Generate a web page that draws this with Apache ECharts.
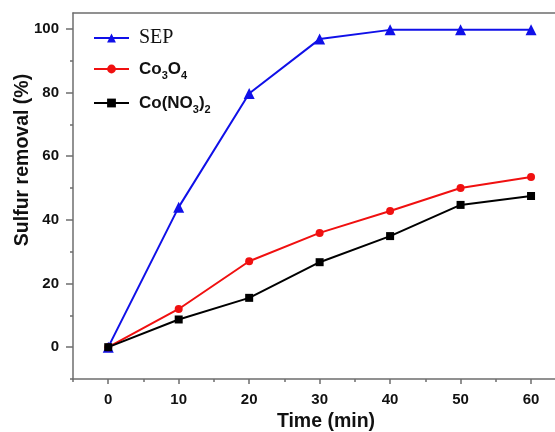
<!DOCTYPE html>
<html>
<head>
<meta charset="utf-8">
<script src="https://cdn.jsdelivr.net/npm/echarts@6/dist/echarts.min.js"></script>
<style>html,body{margin:0;padding:0;background:#fff;}#c{width:555px;height:432px;}</style>
</head>
<body>
<div id="c"></div>
<script>
const times = [0, 10, 20, 30, 40, 50, 60];
const sep = [0, 44, 79.7, 96.8, 99.7, 99.7, 99.7];
const co3o4 = [0, 12.0, 27.0, 35.9, 42.8, 50.0, 53.5];
const coNO3 = [0, 8.7, 15.5, 26.7, 34.9, 44.7, 47.5];
const xTickLabels = [0, 10, 20, 30, 40, 50, 60];
const xMinorTicks = [-5, 5, 15, 25, 35, 45, 55];
const yTickLabels = [0, 20, 40, 60, 80, 100];
const yMinorTicks = [-10, 10, 30, 50, 70, 90];

const toPairs = arr => times.map((t, i) => [t, arr[i]]);
const axisColor = '#6e6e6e';
const labelFont = {color: '#111', fontFamily: 'Liberation Sans', fontWeight: 'bold', fontSize: 15};
const richBase = {
  b: {fontFamily: 'Liberation Sans', fontWeight: 'bold', fontSize: 17, color: '#111', lineHeight: 24, verticalAlign: 'middle'},
  s: {fontFamily: 'Liberation Sans', fontWeight: 'bold', fontSize: 11, color: '#111', lineHeight: 10, padding: [14, 0, 0, 0], verticalAlign: 'bottom'},
  r: {fontFamily: 'Liberation Serif', fontSize: 20, color: '#111', lineHeight: 24, verticalAlign: 'middle'}
};
const legendCommon = {
  orient: 'vertical', left: 88, itemWidth: 35, itemHeight: 11,
  textStyle: {rich: richBase, padding: [0, 0, 0, 5]}
};
const axisLineStyle = {color: axisColor, width: 1.5};
const X_MIN = -5, X_MAX = 63.4, Y_MIN = -10, Y_MAX = 105;

const chart = echarts.init(document.getElementById('c'), null, {renderer: 'canvas'});
chart.setOption({
  animation: false,
  backgroundColor: '#fff',
  grid: {left: 73, right: 0, top: 13, bottom: 53, show: false, containLabel: false, outerBoundsMode: 'none'},
  legend: [
    Object.assign({}, legendCommon, {top: 23, data: ['SEP'], formatter: () => '{r|SEP}'}),
    Object.assign({}, legendCommon, {top: 51, data: ['Co3O4'], formatter: () => '{b|Co}{s|3}{b|O}{s|4}'}),
    Object.assign({}, legendCommon, {top: 85, data: ['Co(NO3)2'], formatter: () => '{b|Co(NO}{s|3}{b|)}{s|2}'})
  ],
  xAxis: [{
    type: 'value', min: X_MIN, max: X_MAX, position: 'bottom',
    name: 'Time (min)', nameLocation: 'middle', nameGap: 32,
    nameTextStyle: {fontFamily: 'Liberation Sans', fontWeight: 'bold', fontSize: 19.5, color: '#111', padding: [0, 0, 0, 24]},
    axisLine: {show: true, onZero: false, lineStyle: axisLineStyle},
    axisTick: {show: true, inside: false, length: 5, customValues: xTickLabels, lineStyle: axisLineStyle},
    axisLabel: {show: true, margin: 13, customValues: xTickLabels, ...labelFont},
    splitLine: {show: false}
  }, {
    type: 'value', min: X_MIN, max: X_MAX, position: 'bottom', offset: 0,
    axisLine: {show: false, onZero: false},
    axisTick: {show: true, length: 3, customValues: xMinorTicks, lineStyle: axisLineStyle},
    axisLabel: {show: false},
    splitLine: {show: false}
  }, {
    type: 'value', min: X_MIN, max: X_MAX, position: 'top', offset: 0,
    axisLine: {show: true, onZero: false, lineStyle: axisLineStyle},
    axisTick: {show: false},
    axisLabel: {show: false},
    splitLine: {show: false}
  }],
  yAxis: [{
    type: 'value', min: Y_MIN, max: Y_MAX, position: 'left',
    name: 'Sulfur removal (%)', nameLocation: 'middle', nameRotate: 90, nameGap: 40, nameMoveOverlap: false,
    nameTextStyle: {fontFamily: 'Liberation Sans', fontWeight: 'bold', fontSize: 19.5, color: '#111', padding: [0, 0, 0, 72]},
    axisLine: {show: true, onZero: false, lineStyle: axisLineStyle},
    axisTick: {show: true, length: 7, customValues: yTickLabels, lineStyle: axisLineStyle},
    axisLabel: {show: true, margin: 14, customValues: yTickLabels, ...labelFont},
    splitLine: {show: false}
  }, {
    type: 'value', min: Y_MIN, max: Y_MAX, position: 'left', offset: 0,
    axisLine: {show: false, onZero: false},
    axisTick: {show: true, length: 3, customValues: yMinorTicks, lineStyle: axisLineStyle},
    axisLabel: {show: false},
    splitLine: {show: false}
  }],
  series: [{
    name: 'SEP', type: 'line', data: toPairs(sep),
    symbol: 'triangle', symbolSize: 11, color: '#1010e8',
    lineStyle: {width: 2, color: '#1010e8'}, itemStyle: {color: '#1010e8'}
  }, {
    name: 'Co3O4', type: 'line', data: toPairs(co3o4),
    symbol: 'circle', symbolSize: 8, color: '#f01010',
    lineStyle: {width: 2, color: '#f01010'}, itemStyle: {color: '#f01010'}
  }, {
    name: 'Co(NO3)2', type: 'line', data: toPairs(coNO3),
    symbol: 'rect', symbolSize: 8, color: '#000',
    lineStyle: {width: 2, color: '#000'}, itemStyle: {color: '#000'}
  }]
});
</script>
</body>
</html>
